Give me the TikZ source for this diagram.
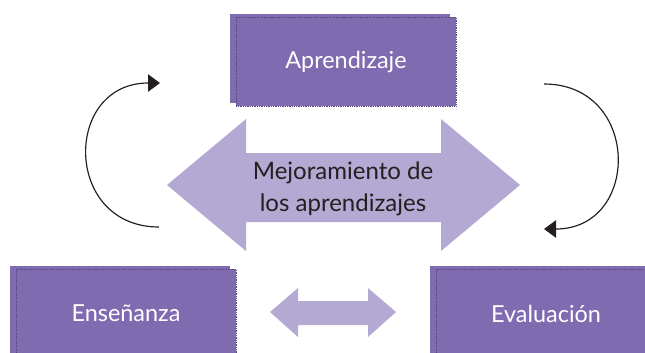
\documentclass[tikz,border=0pt]{standalone}
\usepackage{fontspec}
\setmainfont{Lato}
\usetikzlibrary{positioning,arrows.meta,backgrounds}
\definecolor{cBox}  {HTML}{7F6BB0}
\definecolor{cEdge} {HTML}{54487E}
\definecolor{cArrow}{HTML}{B3A9D3}
\definecolor{cText} {HTML}{231F20}
\tikzset{
  >={Triangle[length=3.6mm,width=5.2mm]},
  sbox/.style={draw=cEdge,densely dotted,line width=0.5pt,fill=cBox,text=white,
               minimum width=66mm,minimum height=26.7mm,inner sep=0pt,
               font=\fontsize{20}{24}\selectfont},
  sback/.style={fill=cBox},
  sarr/.style={fill=cArrow},
  scyc/.style={->,line width=1pt,cText},
}

\begin{document}
\begin{tikzpicture}[x=0.3mm,y=-0.3mm]
    \clip (0,0) rectangle (645,352);
    \node[sbox] (apr) at (346,61.5) {Aprendizaje};
    \node[sbox] (ens) at (126,313.5) {Enseñanza};
    \node[sbox] (eva) at (546,313.5) {Evaluación};
    \begin{scope}[on background layer]
      \foreach \n in {apr,ens,eva}
        \fill[sback] ([xshift=-1.8mm,yshift=0.9mm]\n.south west)
                     rectangle ([xshift=-1.8mm,yshift=0.9mm]\n.north east);
    \end{scope}
    % big double arrow
    \fill[sarr] (167,185) -- (246,119) -- (246,153) -- (441,153) -- (441,119)
                -- (520,185) -- (441,251) -- (441,222) -- (246,222) -- (246,251) -- cycle;
    \node[align=center,text=cText,font=\fontsize{20.5}{27}\selectfont] (mej) at (343,189)
          {Mejoramiento de\\los aprendizajes};
    % small double arrow
    \fill[sarr] (270,312) -- (298,288) -- (298,301) -- (368,301) -- (368,288)
                -- (396,312) -- (368,337) -- (368,325) -- (298,325) -- (298,337) -- cycle;
    % cycle arrows
    \coordinate (l0) at (159,227); \coordinate (l1) at (160,83);
    \coordinate (r0) at (544,84);  \coordinate (r1) at (544,229);
    \draw[scyc] (l0) .. controls (63,227) and (63,83) .. (l1);
    \draw[scyc] (r0) .. controls (641,84) and (641,229) .. (r1);
  \end{tikzpicture}
\end{document}
